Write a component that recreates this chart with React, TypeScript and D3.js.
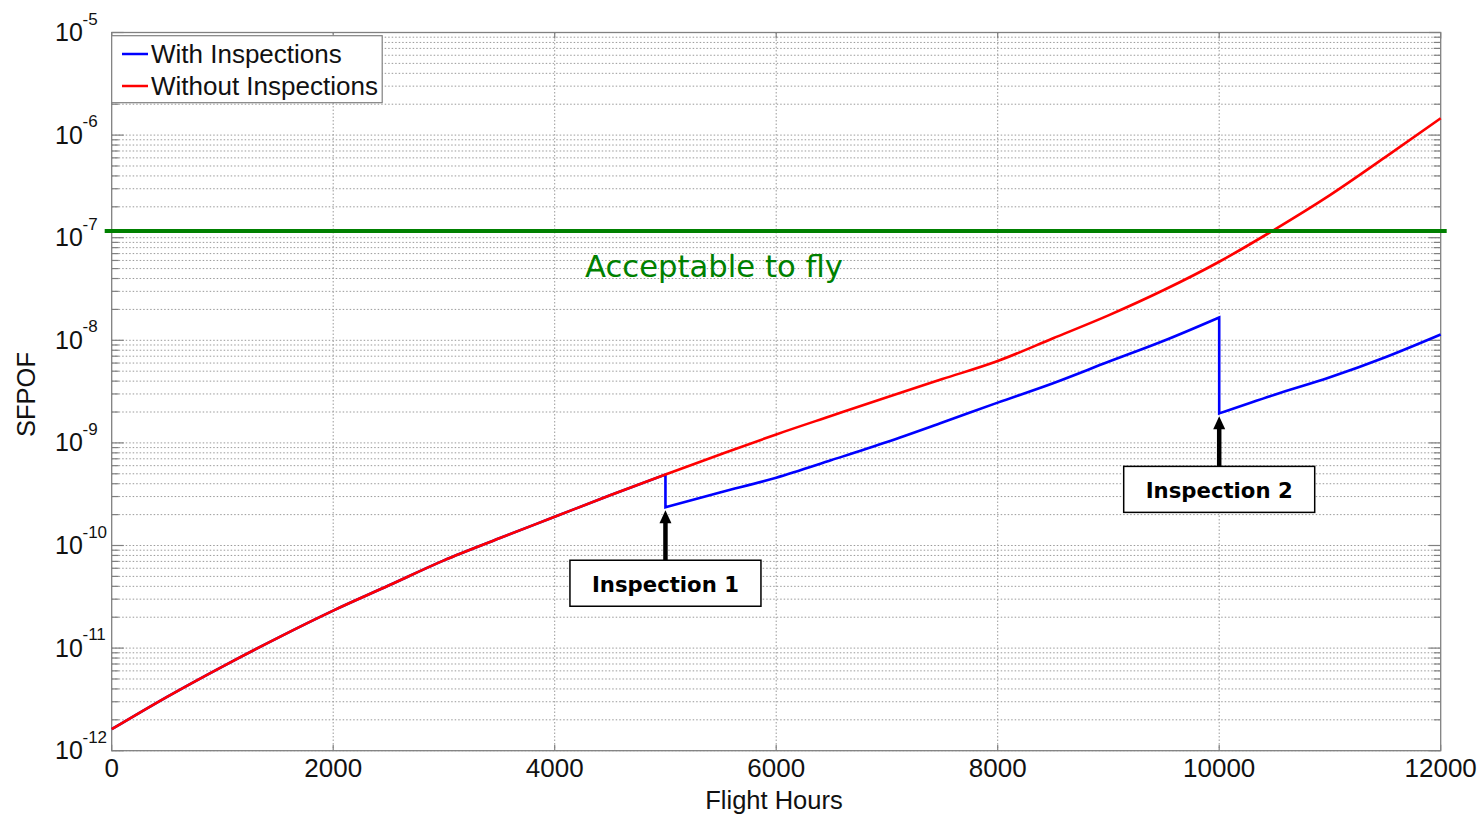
import React from "react";
import * as d3 from "d3";

// ---- data ----
const hours = [0, 500, 1000, 1500, 2000, 2500, 3000, 3500, 4000, 4500, 5000, 5500, 6000, 6500, 7000, 7500, 8000, 8500, 9000, 9500, 10000, 10500, 11000, 11500, 12000];
const withoutInspections = [1.62e-12, 3.35e-12, 6.61e-12, 1.26e-11, 2.32e-11, 4.07e-11, 7.16e-11, 1.175e-10, 1.905e-10, 3.09e-10, 4.92e-10, 7.76e-10, 1.21e-9, 1.84e-9, 2.79e-9, 4.19e-9, 6.28e-9, 1.047e-8, 1.75e-8, 3.09e-8, 5.83e-8, 1.2e-7, 2.6e-7, 6.1e-7, 1.46e-6];

const afterInsp1Hours = [5000, 5500, 6000, 6500, 7000, 7500, 8000, 8500, 9000, 9500, 10000];
const afterInsp1Values = [2.36e-10, 3.3e-10, 4.58e-10, 6.8e-10, 1.02e-9, 1.58e-9, 2.47e-9, 3.82e-9, 6.17e-9, 9.9e-9, 1.67e-8];
const afterInsp2Hours = [10000, 10500, 11000, 11500, 12000];
const afterInsp2Values = [1.94e-9, 2.95e-9, 4.36e-9, 6.84e-9, 1.14e-8];

const inspectionHours = [5000, 10000];
const inspectionLabels = ["Inspection 1", "Inspection 2"];
const thresholdValue = 1.16e-7;
const thresholdLabel = "Acceptable to fly";
const xTicks = [0, 2000, 4000, 6000, 8000, 10000, 12000];
const yExponents = [-12, -11, -10, -9, -8, -7, -6, -5];
const legendLabels = ["With Inspections", "Without Inspections"];

const W = 1483, H = 818;
const L = 111.7, R = 1440.7, T = 32.5, B = 750.7;
const FONT = "'Liberation Sans', Arial, sans-serif";
const TAHOMA = "'DejaVu Sans', Verdana, sans-serif";

export default function App() {
  const x = d3.scaleLinear().domain([0, 12000]).range([L, R]);
  const y = d3.scaleLog().domain([1e-12, 1e-5]).range([B, T]);

  const redPts: [number, number][] = hours.map((h, i) => [h, withoutInspections[i]]);
  const seg0 = redPts.filter((p) => p[0] <= inspectionHours[0]);
  const seg1: [number, number][] = afterInsp1Hours.map((h, i) => [h, afterInsp1Values[i]]);
  const seg2: [number, number][] = afterInsp2Hours.map((h, i) => [h, afterInsp2Values[i]]);
  const line = d3.line<[number, number]>().x((d) => x(d[0])).y((d) => y(d[1])).curve(d3.curveMonotoneX);

  const blueD = [seg0, seg1, seg2]
    .map((s, i) => {
      const d = line(s) || "";
      return i === 0 ? d : "L" + d.slice(1);
    })
    .join("");
  const redD = line(redPts) || "";

  const minorVals: number[] = [];
  for (let e = -12; e < -5; e++) for (let k = 2; k <= 9; k++) minorVals.push(k * Math.pow(10, e));
  const majorVals = yExponents.map((e) => Math.pow(10, e));

  const inspLows = [afterInsp1Values[0], afterInsp2Values[0]];

  return (
    <svg width={W} height={H} style={{ position: "absolute", left: 0, top: 0, background: "#fff" }}>
      <rect x={0} y={0} width={W} height={H} fill="#fff" />
      {/* grid */}
      <g stroke="#9a9a9a" strokeWidth={1} strokeDasharray="1.5,2">
        {[...majorVals, ...minorVals].map((v, i) => (
          <line key={"h" + i} x1={L} x2={R} y1={y(v)} y2={y(v)} />
        ))}
        {xTicks.slice(1, -1).map((t) => (
          <line key={"v" + t} x1={x(t)} x2={x(t)} y1={T} y2={B} />
        ))}
      </g>
      {/* ticks */}
      <g stroke="#808080" strokeWidth={1.2}>
        {majorVals.map((v, i) => (
          <g key={"mt" + i}>
            <line x1={L} x2={L + 12} y1={y(v)} y2={y(v)} />
            <line x1={R} x2={R - 12} y1={y(v)} y2={y(v)} />
          </g>
        ))}
        {minorVals.map((v, i) => (
          <g key={"nt" + i}>
            <line x1={L} x2={L + 7} y1={y(v)} y2={y(v)} />
            <line x1={R} x2={R - 7} y1={y(v)} y2={y(v)} />
          </g>
        ))}
        {xTicks.map((t) => (
          <g key={"xt" + t}>
            <line x1={x(t)} x2={x(t)} y1={B} y2={B - 6} />
            <line x1={x(t)} x2={x(t)} y1={T} y2={T + 6} />
          </g>
        ))}
      </g>
      {/* frame */}
      <rect x={L} y={T} width={R - L} height={B - T} fill="none" stroke="#808080" strokeWidth={1.3} />

      {/* series */}
      <path d={blueD} fill="none" stroke="#0000ff" strokeWidth={2.6} strokeLinejoin="miter" />
      <path d={redD} fill="none" stroke="#ff0000" strokeWidth={2.6} />

      {/* threshold */}
      <line x1={L - 7} x2={R + 6} y1={y(thresholdValue)} y2={y(thresholdValue)} stroke="#008000" strokeWidth={4} />
      <text x={585} y={y(thresholdValue) + 46} fontFamily={TAHOMA} fontSize={31} fill="#008000" textLength={258} lengthAdjust="spacingAndGlyphs">
        {thresholdLabel}
      </text>

      {/* inspections */}
      {inspectionHours.map((h, i) => {
        const cx = x(h);
        const tip = y(inspLows[i]) + 3;
        const boxTop = tip + 50;
        return (
          <g key={"ins" + i}>
            <line x1={cx} x2={cx} y1={boxTop} y2={tip + 12} stroke="#000" strokeWidth={4.5} />
            <path d={`M${cx},${tip} L${cx - 6},${tip + 13} L${cx + 6},${tip + 13} Z`} fill="#000" />
            <rect x={cx - 95.5} y={boxTop} width={191} height={46} fill="#fff" stroke="#000" strokeWidth={1.5} />
            <text x={cx} y={boxTop + 32} textAnchor="middle" fontFamily={TAHOMA} fontWeight="bold" fontSize={22} fill="#000" textLength={147} lengthAdjust="spacingAndGlyphs">
              {inspectionLabels[i]}
            </text>
          </g>
        );
      })}

      {/* legend */}
      <rect x={L} y={35.7} width={270.5} height={67} fill="#fff" stroke="#808080" strokeWidth={1.2} />
      {legendLabels.map((lab, i) => (
        <g key={lab}>
          <line x1={122} x2={148} y1={54 + i * 32} y2={54 + i * 32} stroke={i === 0 ? "#0000ff" : "#ff0000"} strokeWidth={2.5} />
          <text x={151} y={63 + i * 32} fontFamily={FONT} fontSize={26} fill="#111">
            {lab}
          </text>
        </g>
      ))}

      {/* x tick labels */}
      {xTicks.map((t) => (
        <text key={"xl" + t} x={x(t)} y={777} textAnchor="middle" fontFamily={FONT} fontSize={26} fill="#111">
          {t}
        </text>
      ))}
      {/* y tick labels */}
      {yExponents.map((e) => {
        const yy = y(Math.pow(10, e));
        return (
          <g key={"yl" + e}>
            <text x={55} y={yy + 8.5} fontFamily={FONT} fontSize={25} fill="#111">10</text>
            <text x={82.5} y={yy - 8} fontFamily={FONT} fontSize={17} fill="#111">{e}</text>
          </g>
        );
      })}

      {/* axis titles */}
      <text x={774} y={809} textAnchor="middle" fontFamily={FONT} fontSize={25.5} fill="#111">Flight Hours</text>
      <text transform="translate(35,394.5) rotate(-90)" textAnchor="middle" fontFamily={FONT} fontSize={25.5} fill="#111">SFPOF</text>
    </svg>
  );
}
